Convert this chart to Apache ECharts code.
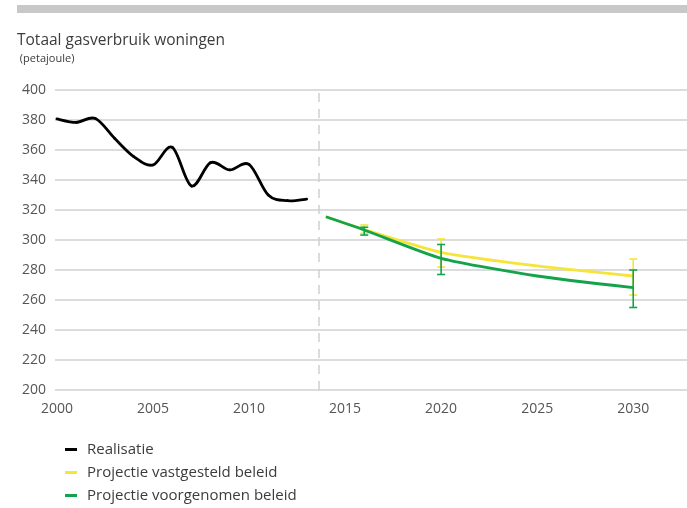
<!DOCTYPE html>
<html>
<head>
<meta charset="utf-8">
<script src="https://cdn.jsdelivr.net/npm/echarts@6/dist/echarts.min.js"></script>
<style>
  html, body { margin: 0; padding: 0; background: #fff; }
  #chart { width: 687px; height: 508px; }
</style>
</head>
<body>
<div id="chart"></div>
<script>
// Realised gas use of dwellings (PJ), 2000-2013
const realYears = [2000, 2001, 2002, 2003, 2004, 2005, 2006, 2007, 2008, 2009, 2010, 2011, 2012, 2013];
const realValues = [380.7, 378.4, 381, 367.8, 355.6, 350, 361.8, 336, 351.6, 346.7, 350.4, 330, 326.2, 327.3];

// Projections (PJ)
const projYears = [2014, 2016, 2020, 2025, 2030];
const fixedPolicy = [315.5, 307, 291.8, 282.7, 276];
const plannedPolicy = [315.5, 306.7, 287.8, 276, 268.2];

// Uncertainty ranges: [year, low, high]
const fixedRange = [[2016, 304.5, 310], [2020, 282, 300.7], [2030, 263.3, 287.3]];
const plannedRange = [[2016, 303.3, 308.5], [2020, 277, 297], [2030, 255, 280]];

// Axis ticks
const yearTicks = [2000, 2005, 2010, 2015, 2020, 2025, 2030];
const breakYear = 2013.65;

const names = ['Realisatie', 'Projectie vastgesteld beleid', 'Projectie voorgenomen beleid'];
const colors = ['#000000', '#f5e53a', '#13a44b'];

const FONT = '"Open Sans"';

const pair = (xs, ys) => xs.map((x, i) => [x, ys[i]]);

// Catmull-Rom segment between point i and i+1, positioned through the axes
function splineSegment(xs, ys, color, width) {
  return function (params, api) {
    const i = params.dataIndex;
    const n = xs.length;
    if (i >= n - 1) return null;
    const p = k => api.coord([xs[Math.max(0, Math.min(n - 1, k))], ys[Math.max(0, Math.min(n - 1, k))]]);
    const p0 = p(i - 1), p1 = p(i), p2 = p(i + 1), p3 = p(i + 2);
    const t = 1 / 6;
    return {
      type: 'bezierCurve',
      shape: {
        x1: p1[0], y1: p1[1],
        cpx1: p1[0] + (p2[0] - p0[0]) * t, cpy1: p1[1] + (p2[1] - p0[1]) * t,
        cpx2: p2[0] - (p3[0] - p1[0]) * t, cpy2: p2[1] - (p3[1] - p1[1]) * t,
        x2: p2[0], y2: p2[1]
      },
      style: { stroke: color, lineWidth: width, fill: null, lineCap: 'round', lineJoin: 'round' }
    };
  };
}

function errorBar(color) {
  return function (params, api) {
    const x = api.value(0);
    const lo = api.coord([x, api.value(1)]);
    const hi = api.coord([x, api.value(2)]);
    const cap = 4;
    const style = { stroke: color, lineWidth: 1.6 };
    return {
      type: 'group',
      children: [
        { type: 'line', shape: { x1: lo[0], y1: lo[1], x2: hi[0], y2: hi[1] }, style },
        { type: 'line', shape: { x1: lo[0] - cap, y1: lo[1], x2: lo[0] + cap, y2: lo[1] }, style },
        { type: 'line', shape: { x1: hi[0] - cap, y1: hi[1], x2: hi[0] + cap, y2: hi[1] }, style }
      ]
    };
  };
}

const chart = echarts.init(document.getElementById('chart'), null, { renderer: 'canvas' });

chart.setOption({
  animation: false,
  textStyle: { fontFamily: FONT },
  graphic: [{
    type: 'rect',
    shape: { x: 17, y: 5, width: 670, height: 8 },
    style: { fill: '#c8c8c8' },
    silent: true
  }],
  title: {
    text: 'Totaal gasverbruik woningen',
    subtext: ' (petajoule)',
    left: 12,
    top: 28,
    itemGap: 4,
    textStyle: { fontFamily: FONT, fontSize: 15.5, fontWeight: 'normal', color: '#3c3c3c' },
    subtextStyle: { fontFamily: FONT, fontSize: 11, color: '#3c3c3c' }
  },
  legend: {
    orient: 'vertical',
    left: 60,
    top: 437,
    height: 90,
    itemGap: 8,
    itemWidth: 12,
    itemHeight: 3,
    icon: 'rect',
    data: names,
    textStyle: { fontFamily: FONT, fontSize: 15, color: '#3c3c3c', padding: [0, 0, 0, 5] }
  },
  grid: { left: 55, right: 0, top: 90, bottom: 118, containLabel: false },
  xAxis: {
    type: 'value',
    min: 1999.9,
    max: 2032.8,
    axisLine: { show: false },
    axisTick: { show: false },
    splitLine: { show: false },
    axisLabel: {
      customValues: yearTicks,
      margin: 12,
      fontFamily: FONT,
      fontSize: 14,
      color: '#555',
      formatter: v => String(v)
    }
  },
  yAxis: {
    type: 'value',
    min: 200,
    max: 400,
    interval: 20,
    axisLine: { show: false },
    axisTick: { show: false },
    axisLabel: { margin: 9, fontFamily: FONT, fontSize: 14, color: '#555' },
    splitLine: { lineStyle: { color: '#d0d0d0', width: 1.5 } }
  },
  series: [
    {
      name: names[0],
      type: 'custom',
      renderItem: splineSegment(realYears, realValues, colors[0], 2.8),
      data: pair(realYears, realValues),
      encode: { x: 0, y: 1 },
      itemStyle: { color: colors[0] },
      z: 3
    },
    {
      name: names[1],
      type: 'line',
      data: pair(projYears, fixedPolicy),
      smooth: 0.2,
      showSymbol: false,
      lineStyle: { color: colors[1], width: 2.8 },
      itemStyle: { color: colors[1] },
      markLine: {
        silent: true,
        symbol: 'none',
        label: { show: false },
        lineStyle: { color: '#cfcfcf', type: [9, 7], width: 1.5 },
        data: [{ xAxis: breakYear }]
      },
      z: 3
    },
    {
      name: names[1],
      type: 'custom',
      renderItem: errorBar(colors[1]),
      data: fixedRange,
      encode: { x: 0, y: [1, 2] },
      z: 4
    },
    {
      name: names[2],
      type: 'line',
      data: pair(projYears, plannedPolicy),
      smooth: 0.2,
      showSymbol: false,
      lineStyle: { color: colors[2], width: 2.8 },
      itemStyle: { color: colors[2] },
      z: 5
    },
    {
      name: names[2],
      type: 'custom',
      renderItem: errorBar(colors[2]),
      data: plannedRange,
      encode: { x: 0, y: [1, 2] },
      z: 6
    }
  ]
});
</script>
</body>
</html>
